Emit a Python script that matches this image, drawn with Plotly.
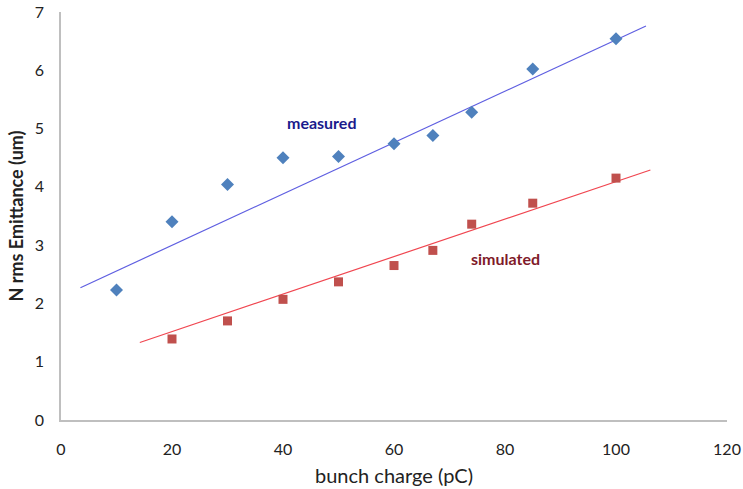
import plotly.graph_objects as go

# Bunch charge (pC) and normalized rms emittance (um)
measured_charge = [10, 20, 30, 40, 50, 60, 67, 74, 85, 100]
measured_emit = [2.23, 3.40, 4.04, 4.50, 4.52, 4.74, 4.88, 5.28, 6.02, 6.54]

simulated_charge = [20, 30, 40, 50, 60, 67, 74, 85, 100]
simulated_emit = [1.39, 1.70, 2.07, 2.37, 2.65, 2.91, 3.36, 3.72, 4.15]

# Linear trend lines (end points)
measured_trend_x = [3.5, 105.4]
measured_trend_y = [2.27, 6.76]
simulated_trend_x = [14.2, 106.2]
simulated_trend_y = [1.33, 4.29]

x_ticks = [0, 20, 40, 60, 80, 100, 120]
y_ticks = [0, 1, 2, 3, 4, 5, 6, 7]

FONT = "Lato, 'Open Sans', sans-serif"

fig = go.Figure()

fig.add_trace(go.Scatter(
    x=measured_trend_x, y=measured_trend_y, mode="lines",
    line=dict(color="rgb(95,95,225)", width=1.2), showlegend=False,
    hoverinfo="skip"))
fig.add_trace(go.Scatter(
    x=simulated_trend_x, y=simulated_trend_y, mode="lines",
    line=dict(color="rgb(240,70,80)", width=1.2), showlegend=False,
    hoverinfo="skip"))

fig.add_trace(go.Scatter(
    x=measured_charge, y=measured_emit, mode="markers", name="measured",
    marker=dict(symbol="diamond", size=10, color="#4F81BD"),
    showlegend=False))
fig.add_trace(go.Scatter(
    x=simulated_charge, y=simulated_emit, mode="markers", name="simulated",
    marker=dict(symbol="square", size=9, color="#C0504D"),
    showlegend=False))

fig.add_annotation(x=47, y=5.1, text="<b>measured</b>", showarrow=False,
                   font=dict(family=FONT, size=16, color="#1A1A8C"))
fig.add_annotation(x=80, y=2.77, text="<b>simulated</b>", showarrow=False,
                   font=dict(family=FONT, size=16, color="#7F1A2A"))

fig.update_layout(
    width=743, height=489,
    margin=dict(l=61, r=16, t=12, b=69),
    paper_bgcolor="white", plot_bgcolor="white",
    font=dict(family=FONT, size=16, color="#222222"),
)
fig.update_xaxes(
    range=[0, 120], tickvals=x_ticks, showgrid=False, zeroline=False,
    showline=True, linecolor="#BFBFBF", linewidth=1.5, ticks="",
    ticklabelstandoff=14, automargin=False, tickfont=dict(size=16),
    title=dict(text="bunch charge (pC)", font=dict(size=20), standoff=12),
)
fig.update_yaxes(
    range=[0, 7], tickvals=y_ticks, showgrid=False, zeroline=False,
    showline=True, linecolor="#BFBFBF", linewidth=1.5, ticks="",
    ticklabelstandoff=12, automargin=False, tickfont=dict(size=16),
    title=dict(text="<b>N rms Emittance (um)</b>", font=dict(size=18),
               standoff=6),
)

fig.write_html("out.html")
